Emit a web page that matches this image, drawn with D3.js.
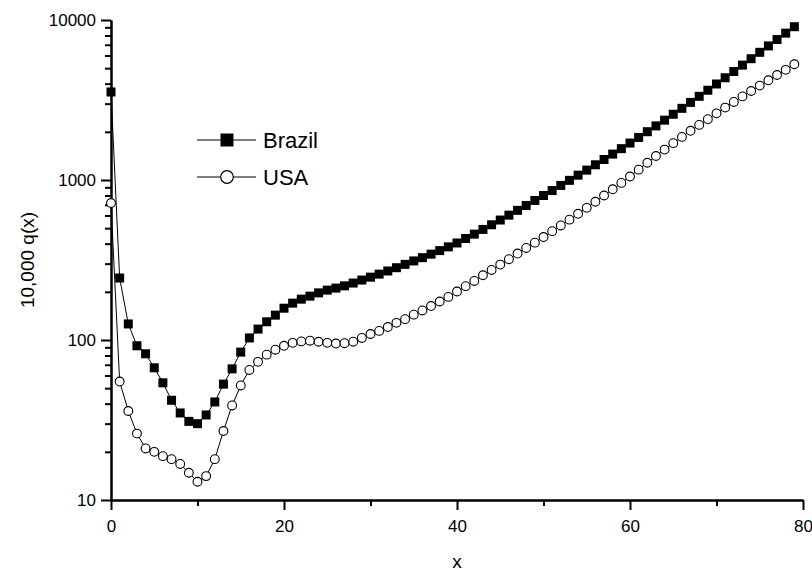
<!DOCTYPE html>
<html>
<head>
<meta charset="utf-8">
<script src="https://cdn.jsdelivr.net/npm/d3@7"></script>
<style>
body { margin: 0; background: #fff; }
text { font-family: "Liberation Sans", Arial, sans-serif; fill: #000; }
</style>
</head>
<body>
<div class="chart"></div>
<script>
// age (x) 0..79
var ages = d3.range(0, 80);

var brazil = [3550, 244, 126, 92, 82, 67, 54, 42, 35, 31,
    30, 34, 41, 53, 66, 84, 103, 117, 130, 143,
    158, 170, 180, 188, 197, 205, 211, 218, 227, 237,
    247, 258, 270, 283, 297, 312, 327, 344, 362, 382,
    404, 431, 459, 491, 525, 562, 603, 646, 693, 745,
    800, 859, 925, 995, 1072, 1153, 1245, 1343, 1452, 1570,
    1702, 1845, 2004, 2178, 2366, 2576, 2805, 3055, 3334, 3639,
    3981, 4355, 4764, 5224, 5728, 6281, 6887, 7551, 8279, 9078];

var usa = [718, 55, 36, 26, 21, 20, 18.8, 18, 16.8, 14.8,
    13, 14.1, 18, 27, 39, 52, 65, 73, 81, 87,
    92, 96, 98, 99, 97.5, 96, 95, 95.5, 97.6, 103,
    109, 114, 120.5, 128, 135, 144, 153, 163, 174, 186,
    201, 217, 234, 254, 274, 296, 320, 347, 376, 406,
    440, 479, 520, 565, 615, 670, 731, 800, 875, 959,
    1052, 1161, 1282, 1413, 1549, 1700, 1860, 2030, 2210, 2400,
    2610, 2835, 3075, 3330, 3600, 3890, 4200, 4530, 4880, 5290];

var xMajorTicks = [0, 20, 40, 60, 80];
var xMinorTicks = [10, 30, 50, 70];
var yMajorTicks = [10, 100, 1000, 10000];

var svgWidth = 812;
var svgHeight = 572;

var margin = { top: 20, right: 9, bottom: 72, left: 111 };
var width = svgWidth - margin.left - margin.right;
var height = svgHeight - margin.top - margin.bottom;

var svg = d3.select(".chart")
    .append("svg")
    .attr("width", svgWidth)
    .attr("height", svgHeight);

var chartGroup = svg.append("g")
    .attr("transform", `translate(${margin.left}, ${margin.top})`);

var xScale = d3.scaleLinear().domain([0, 80]).range([0, width]);
var yScale = d3.scaleLog().domain([10, 10000]).range([height, 0]);

// minor y ticks: 2..9 of each decade
var yMinorTicks = [];
[10, 100, 1000].forEach(function (d) {
    for (var k = 2; k <= 9; k++) yMinorTicks.push(d * k);
});

function styleAxis(g) {
    g.select(".domain").attr("stroke", "#000").attr("stroke-width", 2);
    g.selectAll(".tick line").attr("stroke", "#000").attr("stroke-width", 2);
    g.selectAll(".tick text")
        .style("font-size", "17px")
        .style("font-family", "'Liberation Sans', Arial, sans-serif");
}

// minor ticks first, then major axis with domain line on top
chartGroup.append("g")
    .call(d3.axisLeft(yScale).tickValues(yMinorTicks).tickSize(6).tickSizeOuter(0).tickFormat(""))
    .call(styleAxis);

chartGroup.append("g")
    .call(d3.axisLeft(yScale).tickValues(yMajorTicks).tickSize(10).tickSizeOuter(0)
        .tickPadding(5).tickFormat(d3.format("d")))
    .call(styleAxis);

chartGroup.append("g")
    .attr("transform", `translate(0, ${height})`)
    .call(d3.axisBottom(xScale).tickValues(xMinorTicks).tickSize(6).tickSizeOuter(0).tickFormat(""))
    .call(styleAxis);

chartGroup.append("g")
    .attr("transform", `translate(0, ${height})`)
    .call(d3.axisBottom(xScale).tickValues(xMajorTicks).tickSize(10).tickSizeOuter(0)
        .tickPadding(10).tickFormat(d3.format("d")))
    .call(styleAxis);

// series
var line = d3.line()
    .x(function (d) { return xScale(d[0]); })
    .y(function (d) { return yScale(d[1]); });

var brazilData = ages.map(function (a, i) { return [a, brazil[i]]; });
var usaData = ages.map(function (a, i) { return [a, usa[i]]; });

chartGroup.append("path")
    .datum(brazilData)
    .attr("d", line)
    .attr("fill", "none")
    .attr("stroke", "#000")
    .attr("stroke-width", 1);

var sq = 9;
chartGroup.selectAll("rect.brazil")
    .data(brazilData)
    .enter()
    .append("rect")
    .attr("class", "brazil")
    .attr("x", d => xScale(d[0]) - sq / 2)
    .attr("y", d => yScale(d[1]) - sq / 2)
    .attr("width", sq)
    .attr("height", sq)
    .attr("fill", "#000");

chartGroup.append("path")
    .datum(usaData)
    .attr("d", line)
    .attr("fill", "none")
    .attr("stroke", "#000")
    .attr("stroke-width", 1);

chartGroup.selectAll("circle.usa")
    .data(usaData)
    .enter()
    .append("circle")
    .attr("class", "usa")
    .attr("cx", d => xScale(d[0]))
    .attr("cy", d => yScale(d[1]))
    .attr("r", 4.4)
    .attr("fill", "#fff")
    .attr("stroke", "#000")
    .attr("stroke-width", 1.1);

// legend
var legend = svg.append("g");
var legendItems = [
    { name: "Brazil", y: 140, shape: "square" },
    { name: "USA", y: 177, shape: "circle" }
];
legendItems.forEach(function (item) {
    legend.append("line")
        .attr("x1", 197).attr("x2", 256)
        .attr("y1", item.y).attr("y2", item.y)
        .attr("stroke", "#000").attr("stroke-width", 1);
    if (item.shape === "square") {
        legend.append("rect")
            .attr("x", 227 - 6.5).attr("y", item.y - 6.5)
            .attr("width", 13).attr("height", 13)
            .attr("fill", "#000");
    } else {
        legend.append("circle")
            .attr("cx", 227).attr("cy", item.y).attr("r", 6.3)
            .attr("fill", "#fff").attr("stroke", "#000").attr("stroke-width", 1.2);
    }
    legend.append("text")
        .attr("x", 263).attr("y", item.y)
        .attr("dy", "0.36em")
        .style("font-size", "22px")
        .text(item.name);
});

// axis titles
svg.append("text")
    .attr("transform", "translate(34, 260) rotate(-90)")
    .style("text-anchor", "middle")
    .style("font-size", "19px")
    .text("10,000 q(x)");

svg.append("text")
    .attr("x", 457)
    .attr("y", 568)
    .style("text-anchor", "middle")
    .style("font-size", "19px")
    .text("x");
</script>
</body>
</html>
